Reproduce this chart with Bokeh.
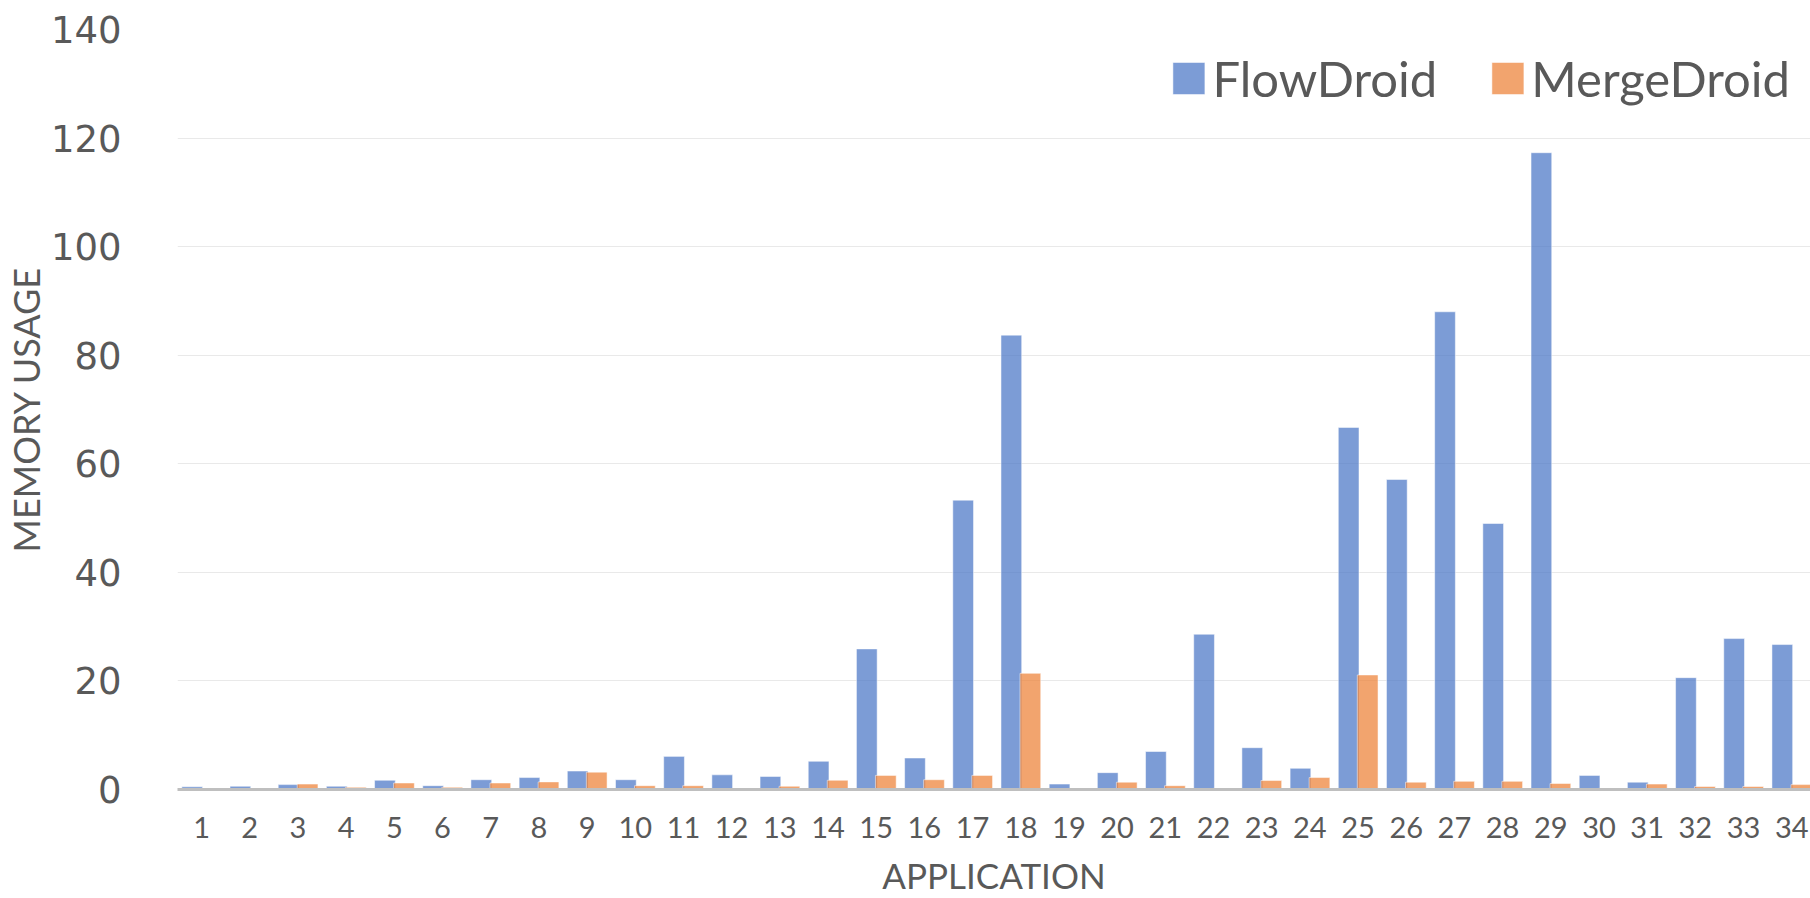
from bokeh.plotting import figure
from bokeh.models import ColumnDataSource, Range1d, FixedTicker, Legend
from bokeh.transform import dodge
from bokeh.embed import file_html
from bokeh.resources import INLINE

apps = list(range(1, 35))
flowdroid = [0.5, 0.6, 0.9, 0.6, 1.7, 0.7, 1.8, 2.2, 3.4, 1.8,
             6.1, 2.7, 2.4, 5.2, 25.9, 5.8, 53.3, 83.7, 1.0, 3.1,
             7.0, 28.6, 7.7, 3.9, 66.7, 57.1, 88.0, 49.0, 117.3, 2.6,
             1.35, 20.6, 27.8, 26.7]
mergedroid = [0.2, 0.2, 1.0, 0.4, 1.2, 0.4, 1.2, 1.4, 3.2, 0.7,
              0.7, 0.1, 0.6, 1.7, 2.6, 1.8, 2.6, 21.4, 0.05, 1.35,
              0.7, 0.2, 1.65, 2.2, 21.1, 1.35, 1.5, 1.5, 1.1, 0.2,
              1.0, 0.55, 0.55, 0.9]
y_ticks = [0, 20, 40, 60, 80, 100, 120, 140]

src = ColumnDataSource(dict(x=apps, flow=flowdroid, merge=mergedroid))

p = figure(width=1810, height=898, output_backend="svg", toolbar_location=None,
           x_range=Range1d(0.5, 34.39), y_range=Range1d(0, 140),
           min_border_left=166, min_border_right=0, min_border_top=29,
           min_border_bottom=108)
p.outline_line_color = None
p.background_fill_color = "white"

TXT = "#595959"

r1 = p.vbar(x=dodge("x", -0.195), top="flow", width=0.43, source=src,
            fill_color="#4472C4", fill_alpha=0.7, line_color="white", line_alpha=0.5)
r2 = p.vbar(x=dodge("x", 0.2), top="merge", width=0.43, source=src,
            fill_color="#ED7D31", fill_alpha=0.7, line_color="white", line_alpha=0.5)

# grid
p.xgrid.grid_line_color = None
p.ygrid.grid_line_color = "#E9E9E9"
p.ygrid.grid_line_width = 1
p.ygrid.ticker = FixedTicker(ticks=y_ticks)

# x axis
p.xaxis.ticker = FixedTicker(ticks=apps)
p.xaxis.axis_label = "APPLICATION"
p.xaxis.axis_label_text_font = "Lato"
p.xaxis.axis_label_text_font_size = "35px"
p.xaxis.axis_label_text_font_style = "normal"
p.xaxis.axis_label_text_color = TXT
p.xaxis.axis_label_standoff = 13
p.xaxis.major_label_text_font = "Lato"
p.xaxis.major_label_text_font_size = "29px"
p.xaxis.major_label_text_color = TXT
p.xaxis.major_label_standoff = 21
p.xaxis.major_tick_line_color = None
p.xaxis.minor_tick_line_color = None
p.xaxis.axis_line_color = "#BFBFBF"
p.xaxis.axis_line_width = 3

# y axis
p.yaxis.ticker = FixedTicker(ticks=y_ticks)
p.yaxis.axis_label = "MEMORY USAGE"
p.yaxis.axis_label_text_font = "Lato"
p.yaxis.axis_label_text_font_size = "36px"
p.yaxis.axis_label_text_font_style = "normal"
p.yaxis.axis_label_text_color = TXT
p.yaxis.axis_label_standoff = 0
p.yaxis.major_label_text_font = "DejaVu Sans"
p.yaxis.major_label_text_font_size = "37px"
p.yaxis.major_label_text_color = TXT
p.yaxis.major_label_standoff = 50
p.yaxis.major_tick_line_color = None
p.yaxis.minor_tick_line_color = None
p.yaxis.axis_line_color = None

legend = Legend(items=[("FlowDroid", [r1]), ("MergeDroid", [r2])],
                location="top_right", orientation="horizontal")
legend.label_text_font = "Lato"
legend.label_text_font_size = "49px"
legend.label_text_color = TXT
legend.glyph_width = 40
legend.glyph_height = 40
legend.label_standoff = 4
legend.spacing = 50
legend.padding = 21
legend.margin = 20
legend.border_line_color = None
legend.background_fill_alpha = 0
p.add_layout(legend, "center")

open("out.html", "w").write(file_html(p, INLINE))
